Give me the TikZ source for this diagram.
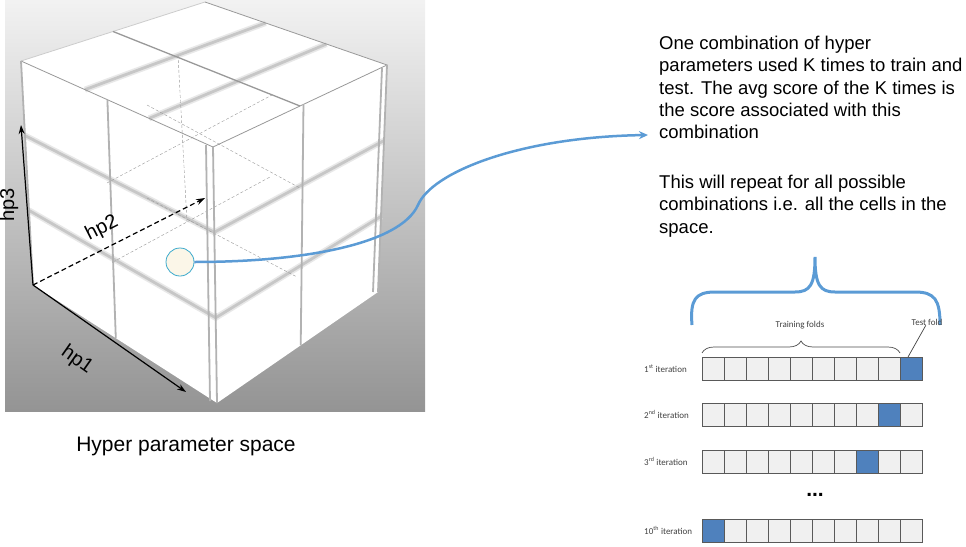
\documentclass[tikz,border=0pt]{standalone}
\usepackage{fontspec}
\setmainfont{Liberation Sans}
\newfontfamily\fldfont{Carlito}
\usetikzlibrary{calc,arrows.meta,decorations.pathreplacing}
\definecolor{lnblue}{RGB}{91,155,213}
\definecolor{foldblue}{RGB}{79,129,189}
\definecolor{cream}{RGB}{251,246,232}
\definecolor{ringblue}{RGB}{60,170,205}
\tikzset{
  cubeedge/.style={draw=black!40, line width=0.8pt},
  cpost/.style={draw=black!30, line width=1.8pt},
  shd/.style={draw=black!9, line width=6pt, postaction={draw=black!22, line width=2.8pt}},
  dsh/.style={draw=black!40, line width=0.4pt, dash pattern=on 3pt off 2pt},
  hpaxis/.style={line width=1.2pt, -{Stealth[length=9pt,width=6pt]}},
  axlab/.style={font=\fontsize{20}{24}\selectfont, inner sep=0pt},
  txt/.style={align=left, inner sep=0pt, font=\fontsize{18.5}{22.3}\selectfont},
  fold/.style={draw=black!65, line width=0.8pt, minimum width=22pt, minimum height=23pt, inner sep=0pt, outer sep=0pt, anchor=north west},
  lab/.style={font=\fldfont\fontsize{9}{10}\selectfont, text=black!75, inner sep=0pt},
}
\begin{document}
\begin{tikzpicture}[x=1pt,y=-1pt]
    \useasboundingbox (0,0) rectangle (966,546);
    % grey panel behind the cube
    \shade[top color=black!5, bottom color=black!42] (5,0) rectangle (425,411);
    % cube corners
    \coordinate (L) at (21,61);
    \coordinate (B) at (205,2);
    \coordinate (R) at (387,65);
    \coordinate (F) at (213,147);
    \coordinate (BL) at (33,285);
    \coordinate (BR) at (378,292);
    \coordinate (BF) at (217,403);
    \fill[white] (L) -- (B) -- (R) -- (F) -- cycle;
    \fill[white] (L) -- (F) -- (BF) -- (BL) -- cycle;
    \fill[white] (F) -- (R) -- (BR) -- (BF) -- cycle;
    % soft lines of the cells
    \foreach \f in {.333,.667}{
        \draw[shd] ($(L)!\f!(BL)$) -- ($(F)!\f!(BF)$) -- ($(R)!\f!(BR)$);
        \draw[shd] ($(L)!\f!(F)$) -- ($(B)!\f!(R)$);
    }
    % hidden lines
    \draw[dsh] (178,55) -- (187,222);
    \draw[dsh] (147,105) -- (300,188);
    \draw[dsh] (107,183) -- (272,95);
    \draw[dsh] (113,262) -- (270,177);
    \draw[dsh] (147,198) -- (297,277);
    % edges
    \draw[cubeedge] (B) -- (R) -- (F) -- (L);
    \draw[cubeedge, black!20] (L) -- (B);
    \draw[cubeedge, line width=1.3pt] ($(L)!.5!(B)$) -- ($(F)!.5!(R)$);
    \draw[cpost] ($(L)!.45!(F)$) -- ($(BL)!.45!(BF)$);
    \draw[cpost] ($(F)!.52!(R)$) -- ($(BF)!.52!(BR)$);
    \draw[cpost] (L) -- (BL);
    \draw[cpost] (F) -- (BF);
    \draw[cpost] (206,145) -- (210,401);
    \draw[cpost] (R) -- (BR);
    \draw[cpost] (382,68) -- (373,292);
    % axes
    \coordinate (O) at (33,285);
    \coordinate (e1) at (186,392);
    \coordinate (e2) at (205,198);
    \coordinate (e3) at (21,125);
    \draw[hpaxis] (O) -- (e1);
    \draw[hpaxis, dash pattern=on 5pt off 3pt] (O) -- (e2);
    \draw[hpaxis] (O) -- (e3);
    \node[axlab, rotate=-35] (hp1) at (77,360) {hp1};
    \node[axlab, rotate=27] (hp2) at (102,228) {hp2};
    \node[axlab, rotate=90] (hp3) at (9,205) {hp3};
    \node[font=\fontsize{21}{25}\selectfont, anchor=base, inner sep=0pt] (cap) at (186,451) {Hyper parameter space};
    % one cell of the space
    \node[circle, draw=ringblue, fill=cream, minimum size=28pt, inner sep=0pt, line width=0.8pt] (cell) at (180,262) {};
    \node[txt, anchor=north west] (p1) at (659,36) {One combination of hyper\\parameters used K times to train and\\test. The avg score of the K times is\\the score associated with this\\combination};
    \node[txt, anchor=north west] (p2) at (659,175) {This will repeat for all possible\\combinations i.e. all the cells in the\\space.};
    \coordinate (tip) at (648,135);
    \draw[lnblue, line width=2.5pt, -{Stealth[length=9pt,width=8pt]}] (cell.east) .. controls (300,262) and (400,245) .. (418,205) .. controls (432,172) and (520,137) .. (tip);
    % big brace over the folds
    \draw[lnblue, line width=3pt] (692,325) .. controls (690,300) and (695,292) .. (715,292) -- (795,292) .. controls (810,292) and (815,285) .. (815,257) .. controls (815,285) and (820,292) .. (835,292) -- (915,292) .. controls (935,292) and (940,300) .. (940,325);
    % k folds
    \def\cw{22}
    \foreach \row/\yy/\tc/\suf in {1/357/10/st, 2/403/9/nd, 3/450/8/rd, 10/519/1/th}{
        \foreach \c in {1,...,10}{
            \ifnum\c=\tc \def\fc{foldblue}\else\def\fc{black!6}\fi
            \node[fold, fill=\fc] (r\row c\c) at ({702+(\c-1)*\cw},\yy) {};
        }
        \node[lab, anchor=west] (it\row) at (644,{\yy+11.5}) {\row\textsuperscript{\suf} iteration};
    }
    \node[font=\bfseries\fontsize{21}{24}\selectfont, inner sep=0pt] (dots) at (815,495) {...};
    \draw[decorate, decoration={brace, amplitude=12pt}, black!70, line width=0.7pt] ($(r1c1.north west)+(0,-4)$) -- ($(r1c9.north east)+(0,-4)$);
    \node[lab] (trf) at (800,325) {Training folds};
    \node[lab] (tf) at (927,322) {Test fold};
    \draw[black!75, line width=0.7pt] (tf.250) -- ([xshift=-3pt]r1c10.north);
\end{tikzpicture}
\end{document}
